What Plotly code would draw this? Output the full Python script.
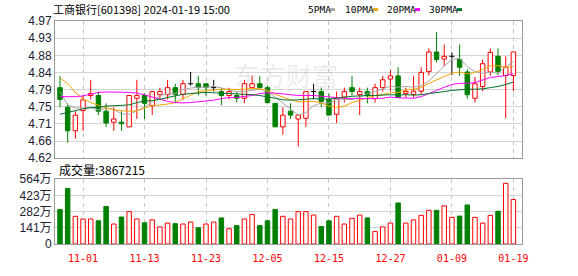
import plotly.graph_objects as go

# ---------------- data ----------------
dates = ["10-27","10-30","10-31","11-01","11-02","11-03","11-06","11-07","11-08","11-09",
         "11-10","11-13","11-14","11-15","11-16","11-17","11-20","11-21","11-22","11-23",
         "11-24","11-27","11-28","11-29","11-30","12-01","12-04","12-05","12-06","12-07",
         "12-08","12-11","12-12","12-13","12-14","12-15","12-18","12-19","12-20","12-21",
         "12-22","12-25","12-26","12-27","12-28","12-29","01-02","01-03","01-04","01-05",
         "01-08","01-09","01-10","01-11","01-12","01-15","01-16","01-17","01-18","01-19"]

opens  = [4.80, 4.75, 4.69, 4.742, 4.78, 4.78, 4.74, 4.712, 4.712, 4.70,
          4.773, 4.78, 4.754, 4.782, 4.782, 4.80, 4.783, 4.81, 4.81, 4.81,
          4.80, 4.79, 4.78, 4.78, 4.773, 4.80, 4.81, 4.80, 4.76, 4.70,
          4.74, 4.72, 4.722, 4.79, 4.79, 4.77, 4.732, 4.776, 4.80, 4.782,
          4.79, 4.772, 4.80, 4.822, 4.83, 4.785, 4.783, 4.791, 4.841, 4.891,
          4.873, 4.88, 4.872, 4.84, 4.773, 4.803, 4.84, 4.88, 4.831, 4.831]
highs  = [4.83, 4.76, 4.74, 4.78, 4.82, 4.79, 4.76, 4.75, 4.74, 4.78,
          4.82, 4.785, 4.79, 4.80, 4.82, 4.81, 4.82, 4.84, 4.83, 4.81,
          4.82, 4.80, 4.80, 4.79, 4.82, 4.83, 4.83, 4.805, 4.76, 4.75,
          4.76, 4.73, 4.79, 4.81, 4.80, 4.785, 4.79, 4.80, 4.83, 4.80,
          4.80, 4.81, 4.83, 4.845, 4.852, 4.80, 4.83, 4.852, 4.90, 4.942,
          4.91, 4.89, 4.91, 4.847, 4.827, 4.872, 4.90, 4.90, 4.88, 4.891]
lows   = [4.75, 4.66, 4.67, 4.69, 4.77, 4.73, 4.70, 4.69, 4.69, 4.70,
          4.72, 4.72, 4.73, 4.77, 4.77, 4.76, 4.77, 4.805, 4.78, 4.78,
          4.79, 4.755, 4.77, 4.762, 4.76, 4.80, 4.80, 4.76, 4.70, 4.68,
          4.72, 4.65, 4.70, 4.77, 4.75, 4.73, 4.71, 4.762, 4.78, 4.73,
          4.76, 4.762, 4.79, 4.79, 4.775, 4.775, 4.775, 4.782, 4.831, 4.864,
          4.855, 4.832, 4.83, 4.772, 4.762, 4.791, 4.831, 4.831, 4.722, 4.791]
closes = [4.77, 4.69, 4.73, 4.769, 4.785, 4.74, 4.71, 4.72, 4.708, 4.78,
          4.78, 4.76, 4.79, 4.79, 4.80, 4.783, 4.81, 4.81, 4.80, 4.80,
          4.80, 4.78, 4.79, 4.773, 4.81, 4.81, 4.80, 4.762, 4.70, 4.73,
          4.73, 4.73, 4.79, 4.79, 4.765, 4.73, 4.773, 4.79, 4.79, 4.79,
          4.78, 4.80, 4.82, 4.83, 4.775, 4.79, 4.791, 4.839, 4.891, 4.872,
          4.88, 4.88, 4.852, 4.782, 4.81, 4.861, 4.89, 4.841, 4.852, 4.891]

ma5  = [4.790, 4.756, 4.748, 4.748, 4.749, 4.743, 4.747, 4.745, 4.733, 4.732,
        4.740, 4.750, 4.764, 4.780, 4.784, 4.785, 4.795, 4.799, 4.801, 4.801,
        4.804, 4.798, 4.794, 4.789, 4.791, 4.793, 4.797, 4.791, 4.776, 4.760,
        4.744, 4.730, 4.736, 4.754, 4.761, 4.761, 4.770, 4.770, 4.770, 4.775,
        4.785, 4.790, 4.796, 4.804, 4.801, 4.803, 4.801, 4.805, 4.817, 4.837,
        4.855, 4.872, 4.875, 4.853, 4.841, 4.837, 4.839, 4.837, 4.851, 4.867]
ma10 = [4.825, 4.810, 4.788, 4.771, 4.762, 4.755, 4.748, 4.744, 4.741, 4.740,
        4.741, 4.748, 4.754, 4.756, 4.758, 4.762, 4.772, 4.781, 4.790, 4.792,
        4.794, 4.796, 4.796, 4.795, 4.796, 4.798, 4.797, 4.793, 4.783, 4.776,
        4.769, 4.764, 4.764, 4.765, 4.761, 4.753, 4.750, 4.753, 4.762, 4.768,
        4.773, 4.780, 4.783, 4.787, 4.788, 4.794, 4.796, 4.801, 4.811, 4.819,
        4.829, 4.837, 4.840, 4.835, 4.839, 4.846, 4.856, 4.856, 4.852, 4.854]
ma20 = [4.777, 4.777, 4.777, 4.779, 4.784, 4.788, 4.789, 4.789, 4.789, 4.788,
        4.786, 4.782, 4.776, 4.770, 4.765, 4.762, 4.761, 4.762, 4.764, 4.766,
        4.768, 4.772, 4.775, 4.775, 4.777, 4.780, 4.785, 4.787, 4.786, 4.784,
        4.781, 4.780, 4.780, 4.780, 4.778, 4.776, 4.774, 4.773, 4.772, 4.772,
        4.771, 4.772, 4.773, 4.776, 4.774, 4.773, 4.773, 4.777, 4.786, 4.793,
        4.801, 4.808, 4.811, 4.811, 4.813, 4.820, 4.826, 4.828, 4.831, 4.836]
ma30 = [4.732, 4.737, 4.742, 4.746, 4.749, 4.750, 4.753, 4.754, 4.755, 4.756,
        4.762, 4.766, 4.767, 4.770, 4.775, 4.779, 4.783, 4.785, 4.787, 4.788,
        4.787, 4.786, 4.786, 4.785, 4.784, 4.782, 4.780, 4.777, 4.773, 4.769,
        4.768, 4.769, 4.771, 4.772, 4.771, 4.771, 4.773, 4.776, 4.778, 4.779,
        4.779, 4.780, 4.781, 4.782, 4.781, 4.782, 4.781, 4.782, 4.785, 4.787,
        4.790, 4.793, 4.795, 4.796, 4.796, 4.797, 4.800, 4.803, 4.808, 4.814]

volumes = [301, 484, 241, 218, 218, 202, 326, 174, 235, 282,
           218, 185, 210, 149, 182, 177, 174, 191, 141, 174,
           191, 227, 133, 160, 218, 257, 160, 202, 301, 241,
           218, 282, 282, 252, 152, 202, 241, 174, 224, 252,
           227, 108, 149, 182, 357, 182, 210, 249, 293, 293,
           332, 232, 243, 340, 232, 182, 249, 285, 528, 386.7]   # 万
vol_up = [0, 0, 1, 1, 1, 0, 0, 1, 0, 1,
          1, 0, 1, 1, 1, 0, 1, 1, 0, 1,
          1, 0, 1, 0, 1, 1, 0, 0, 0, 1,
          1, 1, 1, 1, 0, 0, 1, 1, 1, 1,
          0, 1, 1, 1, 0, 1, 1, 1, 1, 0,
          1, 1, 0, 0, 1, 1, 1, 0, 1, 1]

tick_dates = ["11-01", "11-13", "11-23", "12-05", "12-15", "12-27", "01-09", "01-19"]
price_min, price_max = 4.62, 4.97
price_tick_labels = ["4.62", "4.66", "4.71", "4.75", "4.79", "4.84", "4.88", "4.93", "4.97"]
vol_max = 564
vol_tick_labels = ["0", "141万", "282万", "423万", "564万"]

title_text = "工商银行[601398] 2024-01-19 15:00"
vol_label = "成交量:3867215"
legend_items = [("5PMA", "#a6a6a6"), ("10PMA", "#f5a300"), ("20PMA", "#ff00ff"), ("30PMA", "#00702c")]

# ---------------- styles ----------------
RED = "#ff0000"
GREEN = "#008000"
W, H = 578, 276
ML, MR, MT, MB = 55, 56, 21, 21
PW, PH = W - ML - MR, H - MT - MB


def px2x(px):
    return (px - ML) / PW


def px2y(py):
    return (H - MB - py) / PH


n = len(dates)
xs = list(range(n))

fig = go.Figure()

# wicks
groups = {"up": ([], [], RED), "down": ([], [], GREEN), "flat": ([], [], "#000000")}
up_i, dn_i, flat_i = [], [], []
for i in xs:
    o, h, l, c = opens[i], highs[i], lows[i], closes[i]
    if c > o:
        key = "up"; up_i.append(i)
    elif c < o:
        key = "down"; dn_i.append(i)
    else:
        key = "flat"; flat_i.append(i)
    gx, gy, _ = groups[key]
    top, bot = max(o, c), min(o, c)
    if key == "flat":
        gx += [i, i, None, i - 0.33, i + 0.33, None]
        gy += [l, h, None, o, o, None]
    else:
        gx += [i, i, None, i, i, None]
        gy += [h, top, None, bot, l, None]

# bodies
fig.add_trace(go.Bar(x=up_i, y=[closes[i] - opens[i] for i in up_i], base=[opens[i] for i in up_i],
                     width=0.58, marker=dict(color="white", line=dict(color=RED, width=1)),
                     xaxis="x", yaxis="y", hoverinfo="skip"))
fig.add_trace(go.Bar(x=dn_i, y=[opens[i] - closes[i] for i in dn_i], base=[closes[i] for i in dn_i],
                     width=0.58, marker=dict(color=GREEN, line=dict(color=GREEN, width=1)),
                     xaxis="x", yaxis="y", hoverinfo="skip"))
for key, (gx, gy, col) in groups.items():
    fig.add_trace(go.Scatter(x=gx, y=gy, mode="lines", line=dict(color=col, width=1),
                             xaxis="x", yaxis="y", hoverinfo="skip"))

# moving averages
for vals, (name, col) in zip([ma5, ma10, ma20, ma30], legend_items):
    fig.add_trace(go.Scatter(x=xs, y=vals, mode="lines", line=dict(color=col, width=1),
                             xaxis="x", yaxis="y", hoverinfo="skip"))

# volume bars
vu = [i for i in xs if vol_up[i]]
vd = [i for i in xs if not vol_up[i]]
fig.add_trace(go.Bar(x=vu, y=[volumes[i] for i in vu], width=0.58,
                     marker=dict(color="white", line=dict(color=RED, width=1)),
                     xaxis="x2", yaxis="y2", hoverinfo="skip"))
fig.add_trace(go.Bar(x=vd, y=[volumes[i] for i in vd], width=0.58,
                     marker=dict(color=GREEN, line=dict(color=GREEN, width=1)),
                     xaxis="x2", yaxis="y2", hoverinfo="skip"))

price_ticks = [price_min + k * (price_max - price_min) / 8 for k in range(9)]
vol_ticks = [vol_max * k / 4 for k in range(5)]
tick_idx = [dates.index(d) for d in tick_dates]

price_top, price_bot = 21, 165
vol_top, vol_bot = 187, 255

axis_font = dict(family="Liberation Sans, Arial, Noto Sans CJK SC", size=12, color="#202030")
xcommon = dict(range=[-0.65, 60.12], showgrid=True, gridcolor="#c4c4c4", griddash="4px,4px",
               gridwidth=1, tickvals=tick_idx, zeroline=False, showline=True, mirror=True,
               linecolor="#9a9a9a", linewidth=1, ticks="")
ycommon = dict(showgrid=True, gridcolor="#d4d4d4", gridwidth=1, zeroline=False, showline=True,
               mirror=True, linecolor="#9a9a9a", linewidth=1, ticks="", tickfont=axis_font)

fig.update_layout(
    width=W, height=H,
    margin=dict(l=ML, r=MR, t=MT, b=MB, pad=0),
    paper_bgcolor="white", plot_bgcolor="white",
    showlegend=False, barmode="overlay", hovermode=False,
    xaxis=dict(domain=[0, 1], anchor="y", showticklabels=False, **xcommon),
    yaxis=dict(domain=[px2y(price_bot), px2y(price_top)], anchor="x", range=[price_min, price_max],
               tickvals=price_ticks, ticktext=price_tick_labels, **ycommon),
    xaxis2=dict(domain=[0, 1], anchor="y2", matches="x", ticktext=tick_dates,
                tickfont=dict(family="DejaVu Sans Mono", size=10, color=RED),
                ticklabelstandoff=5, **xcommon),
    yaxis2=dict(domain=[px2y(vol_bot), px2y(vol_top)], anchor="x2", range=[0, vol_max],
                tickvals=vol_ticks, ticktext=vol_tick_labels, **ycommon),
)

ann = []
ann.append(dict(text=title_text, x=px2x(51), y=px2y(8.5), xref="paper", yref="paper",
                xanchor="left", yanchor="middle", showarrow=False,
                font=dict(family="Noto Sans CJK SC", size=11, color="#000")))
ann.append(dict(text=vol_label, x=px2x(57), y=px2y(177), xref="paper", yref="paper",
                xanchor="left", yanchor="middle", showarrow=False,
                font=dict(family="Noto Sans CJK SC", size=12, color="#000")))
ann.append(dict(text="东方财富", x=px2x(286), y=px2y(77), xref="paper", yref="paper",
                xanchor="center", yanchor="middle", showarrow=False,
                font=dict(family="Noto Sans CJK SC", size=26, color="rgba(170,170,170,0.22)")))
legend_x = [306, 343, 385, 427]
sq_x = [330, 373, 415, 457]
shapes = []
for (name, col), lx, sx in zip(legend_items, legend_x, sq_x):
    ann.append(dict(text=name, x=px2x(lx), y=px2y(9), xref="paper", yref="paper",
                    xanchor="left", yanchor="middle", showarrow=False,
                    font=dict(family="DejaVu Sans Mono", size=9.5, color="#000")))
    shapes.append(dict(type="rect", xref="paper", yref="paper",
                       x0=px2x(sx), x1=px2x(sx + 5), y0=px2y(10.5), y1=px2y(7.5),
                       fillcolor=col, line=dict(width=0)))
fig.update_layout(annotations=ann, shapes=shapes)

fig.write_html("out.html")
